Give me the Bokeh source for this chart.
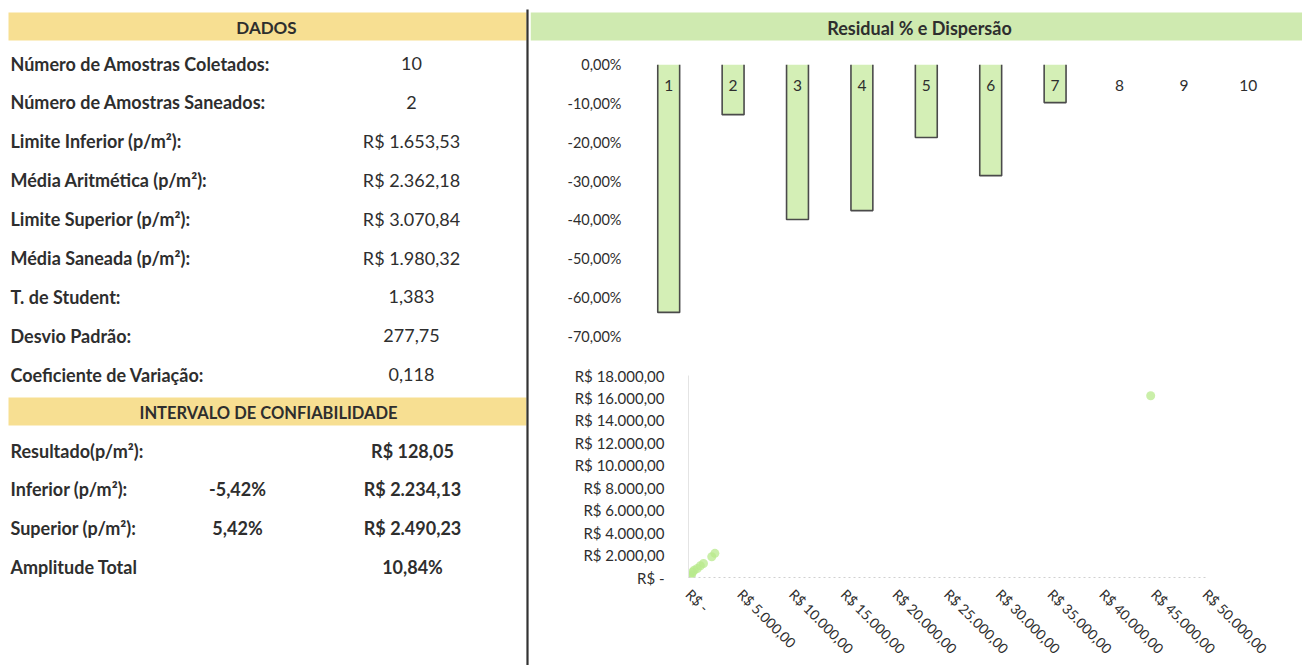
from bokeh.plotting import figure
from bokeh.layouts import row, column
from bokeh.models import Range1d, FixedTicker, CustomJSTickFormatter
from bokeh.core.properties import value
from bokeh.embed import file_html
from bokeh.resources import INLINE

FONT = "Lato"
TXT = "#2e2e2e"
YELLOW = "#f7df92"
GREEN = "#cfeab0"

# ---------------- data ----------------
dados_labels = ["Número de Amostras Coletados:", "Número de Amostras Saneados:",
                "Limite Inferior (p/m²):", "Média Aritmética (p/m²):",
                "Limite Superior (p/m²):", "Média Saneada (p/m²):",
                "T. de Student:", "Desvio Padrão:", "Coeficiente de Variação:"]
dados_values = ["10", "2", "R$ 1.653,53", "R$ 2.362,18", "R$ 3.070,84",
                "R$ 1.980,32", "1,383", "277,75", "0,118"]
ic_labels = ["Resultado(p/m²):", "Inferior (p/m²):", "Superior (p/m²):", "Amplitude Total"]
ic_pct = ["", "-5,42%", "5,42%", ""]
ic_values = ["R$ 128,05", "R$ 2.234,13", "R$ 2.490,23", "10,84%"]

amostras = [1, 2, 3, 4, 5, 6, 7, 8, 9, 10]
residual_pct = [-63.8, -12.9, -39.9, -37.6, -18.8, -28.6, -9.8, 0, 0, 0]
bar_labels = ["1", "2", "3", "4", "5", "6", "7", "8", "9", "10"]

disp_x = [150, 300, 400, 550, 850, 1150, 1450, 2250, 2550, 44700]
disp_y = [100, 250, 500, 650, 800, 1050, 1250, 1850, 2150, 16200]

# ---------------- left table ----------------
L = figure(width=530, height=665, x_range=Range1d(0, 530), y_range=Range1d(665, 0),
           output_backend="svg", toolbar_location=None, min_border=0, frame_align=False)
L.axis.visible = False
L.grid.visible = False
L.outline_line_color = None

L.quad(left=[8, 8], right=[526, 526], top=[12, 397], bottom=[40, 425],
       fill_color=YELLOW, line_color=None)
L.segment(x0=[527], y0=[9], x1=[527], y1=[680], line_color="#333333", line_width=2.2)

L.text(x=[266], y=[27], text=["DADOS"], text_font=value(FONT), text_font_style="bold",
       text_font_size="17px", text_color=TXT, text_align="center", text_baseline="middle")
L.text(x=[268], y=[412], text=["INTERVALO DE CONFIABILIDADE"], text_font=value(FONT),
       text_font_style="bold", text_font_size="16.5px", text_color=TXT,
       text_align="center", text_baseline="middle")

FS = "18px"
ys1 = [63 + 38.9 * i for i in range(len(dados_labels))]
L.text(x=[10] * len(ys1), y=ys1, text=dados_labels, text_font=value(FONT),
       text_font_style="bold", text_font_size=FS, text_color=TXT,
       text_align="left", text_baseline="middle")
L.text(x=[411] * len(ys1), y=ys1, text=dados_values, text_font=value(FONT),
       text_font_size=FS, text_color=TXT, text_align="center", text_baseline="middle")

ys2 = [450 + 38.9 * i for i in range(len(ic_labels))]
L.text(x=[10] * len(ys2), y=ys2, text=ic_labels, text_font=value(FONT),
       text_font_style="bold", text_font_size=FS, text_color=TXT,
       text_align="left", text_baseline="middle")
L.text(x=[237] * len(ys2), y=ys2, text=ic_pct, text_font=value(FONT),
       text_font_style="bold", text_font_size=FS, text_color=TXT,
       text_align="center", text_baseline="middle")
L.text(x=[412] * len(ys2), y=ys2, text=ic_values, text_font=value(FONT),
       text_font_style="bold", text_font_size=FS, text_color=TXT,
       text_align="center", text_baseline="middle")

# ---------------- right header ----------------
H = figure(width=772, height=48, x_range=Range1d(530, 1302), y_range=Range1d(48, 0),
           output_backend="svg", toolbar_location=None, min_border=0, frame_align=False)
H.axis.visible = False
H.grid.visible = False
H.outline_line_color = None
H.quad(left=[530], right=[1302], top=[12], bottom=[40], fill_color=GREEN, line_color=None)
H.text(x=[919], y=[27], text=["Residual % e Dispersão"], text_font=value(FONT),
       text_font_style="bold", text_font_size="18px", text_color=TXT,
       text_align="center", text_baseline="middle")

# ---------------- bar chart ----------------
B = figure(width=772, height=304, x_range=Range1d(0.5, 10.5), y_range=Range1d(-70, 0),
           output_backend="svg", toolbar_location=None, frame_align=False,
           min_border_left=106, min_border_right=22, min_border_top=16, min_border_bottom=16)
B.xaxis.visible = False
B.grid.visible = False
B.outline_line_color = None

BW = 0.34
nz = [(a, v) for a, v in zip(amostras, residual_pct) if v != 0]
bx = [a for a, v in nz]
bv = [v for a, v in nz]
B.vbar(x=bx, top=[0] * len(bx), bottom=bv, width=BW,
       fill_color="#d4efb6", line_color=None)
B.multi_line(xs=[[a - BW / 2, a - BW / 2, a + BW / 2, a + BW / 2] for a in bx],
             ys=[[0, v, v, 0] for v in bv], line_color="#4a4a4a", line_width=1.6)
B.text(x=amostras, y=[-5.5] * len(amostras), text=bar_labels, text_font=value(FONT),
       text_font_size="15.5px", text_color=TXT, text_align="center", text_baseline="middle")
B.yaxis.ticker = FixedTicker(ticks=[0, -10, -20, -30, -40, -50, -60, -70])
B.yaxis.formatter = CustomJSTickFormatter(code="return tick.toFixed(2).replace('.', ',') + '%';")
B.yaxis.axis_line_color = None
B.yaxis.major_tick_line_color = None
B.yaxis.minor_tick_line_color = None
B.yaxis.major_label_standoff = 9
B.yaxis.major_label_text_font = FONT
B.yaxis.major_label_text_font_size = "14.5px"
B.yaxis.major_label_text_color = TXT

# ---------------- scatter ----------------
S = figure(width=772, height=313, x_range=Range1d(0, 50000), y_range=Range1d(0, 18000),
           output_backend="svg", toolbar_location=None, frame_align=False,
           min_border_left=158, min_border_right=97, min_border_top=23, min_border_bottom=88)
S.grid.visible = False
S.outline_line_color = None
S.scatter(disp_x, disp_y, size=9, fill_color="#b8ea8c", fill_alpha=0.75, line_color=None)
S.yaxis.ticker = FixedTicker(ticks=list(range(0, 18001, 2000)))
S.xaxis.ticker = FixedTicker(ticks=list(range(0, 50001, 5000)))
fmt = """
if (tick == 0) { return 'R$ -'; }
var s = Math.round(tick).toString().replace(/\\B(?=(\\d{3})+(?!\\d))/g, '.');
return 'R$ ' + s + ',00';
"""
S.yaxis.formatter = CustomJSTickFormatter(code=fmt)
S.xaxis.formatter = CustomJSTickFormatter(code=fmt)
S.xaxis.major_label_orientation = -0.785398
for ax in (S.xaxis, S.yaxis):
    ax.major_tick_line_color = None
    ax.minor_tick_line_color = None
    ax.major_label_text_font = FONT
    ax.major_label_text_color = TXT
S.yaxis.major_label_text_font_size = "15px"
S.xaxis.major_label_text_font_size = "14px"
S.yaxis.axis_line_color = "#e4e4e4"
S.xaxis.axis_line_color = "#d0d0d0"
S.xaxis.axis_line_dash = "2 3"
S.yaxis.major_label_standoff = 18
S.xaxis.major_label_standoff = 8

layout = row(L, column(H, B, S, spacing=0), spacing=0)
open("out.html", "w").write(file_html(layout, INLINE))
